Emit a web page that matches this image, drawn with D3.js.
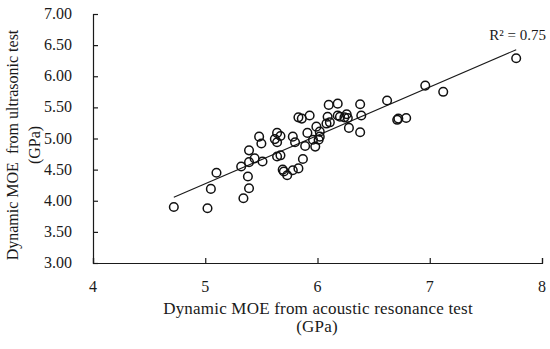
<!DOCTYPE html>
<html>
<head>
<meta charset="utf-8">
<script src="https://cdn.jsdelivr.net/npm/d3@7"></script>
<style>
  body { margin: 0; background: #fff; }
  svg text { font-family: "Liberation Serif", "DejaVu Serif", serif; fill: #1a1a1a; }
</style>
</head>
<body>
<div class="canvas"></div>
<script>
// acoustic resonance MOE (GPa)
const resonance = [
  4.72, 5.02, 5.05, 5.10, 5.34, 5.39, 5.38, 5.32, 5.39, 5.39,
  5.44, 5.51, 5.48, 5.50, 5.62, 5.64, 5.67, 5.64, 5.64, 5.67,
  5.69, 5.70, 5.73, 5.78, 5.83, 5.87, 5.78, 5.80, 5.89, 5.91,
  5.83, 5.86, 5.93, 5.98, 5.96, 5.99, 6.01, 6.02, 6.02, 6.08,
  6.11, 6.09, 6.10, 6.18, 6.18, 6.20, 6.26, 6.27, 6.24, 6.28,
  6.38, 6.39, 6.38, 6.62, 6.71, 6.72, 6.79, 6.96, 7.12, 7.77
];
// ultrasonic MOE (GPa)
const ultrasonic = [
  3.90, 3.88, 4.19, 4.45, 4.04, 4.20, 4.39, 4.55, 4.62, 4.81,
  4.68, 4.63, 5.03, 4.92, 4.99, 5.09, 5.04, 4.94, 4.71, 4.73,
  4.50, 4.47, 4.41, 4.49, 4.52, 4.67, 5.03, 4.94, 4.88, 5.09,
  5.34, 5.32, 5.37, 4.87, 4.98, 5.19, 4.98, 5.03, 5.11, 5.24,
  5.26, 5.35, 5.54, 5.56, 5.37, 5.35, 5.39, 5.33, 5.34, 5.17,
  5.10, 5.37, 5.55, 5.61, 5.30, 5.32, 5.33, 5.85, 5.75, 6.29
];
const xTicks = [4, 5, 6, 7, 8];
const yTicks = [3, 3.5, 4, 4.5, 5, 5.5, 6, 6.5, 7];
const rSquaredLabel = "R² = 0.75";

const points = resonance.map((x, i) => ({ x, y: ultrasonic[i] }));

const dims = { width: 550, height: 349 };
const plot = { left: 93, right: 542, top: 14, bottom: 263 };

const svg = d3
  .select(".canvas")
  .append("svg")
  .attr("width", dims.width)
  .attr("height", dims.height);

const x = d3.scaleLinear().domain([4, 8]).range([plot.left, plot.right]);
const y = d3.scaleLinear().domain([3, 7]).range([plot.bottom, plot.top]);

// axes, ticks inside
svg
  .append("g")
  .attr("transform", `translate(0, ${plot.bottom})`)
  .call(d3.axisTop(x).tickValues(xTicks).tickSize(5).tickSizeOuter(5).tickFormat(""));

svg
  .append("g")
  .attr("transform", `translate(${plot.left}, 0)`)
  .call(d3.axisRight(y).tickValues(yTicks).tickSize(5).tickSizeOuter(5).tickFormat(""));

svg.selectAll(".domain, .tick line").attr("stroke", "#1a1a1a").attr("stroke-width", 1.2);

// tick labels
svg
  .append("g")
  .selectAll("text")
  .data(xTicks)
  .join("text")
  .attr("x", (d) => x(d))
  .attr("y", 292)
  .attr("text-anchor", "middle")
  .attr("font-size", 16)
  .text((d) => d);

svg
  .append("g")
  .selectAll("text")
  .data(yTicks)
  .join("text")
  .attr("x", 72)
  .attr("y", (d) => y(d) + 5)
  .attr("text-anchor", "end")
  .attr("font-size", 16)
  .text((d) => d3.format(".2f")(d));

// axis titles
const xTitle = svg
  .append("text")
  .attr("text-anchor", "middle")
  .attr("font-size", 17)
  .attr("letter-spacing", 0.2);
xTitle.append("tspan").attr("x", 318).attr("y", 314).text("Dynamic MOE from acoustic resonance test");
xTitle.append("tspan").attr("x", 317).attr("y", 332).text("(GPa)");

const yTitle = svg
  .append("text")
  .attr("text-anchor", "middle")
  .attr("font-size", 16)
  .attr("transform", `translate(0, 145) rotate(-90)`);
yTitle.append("tspan").attr("x", 0).attr("y", 18).attr("xml:space", "preserve").text("Dynamic MOE  from ultrasonic test");
yTitle.append("tspan").attr("x", 0).attr("y", 40).text("(GPa)");

// least squares trendline
const mx = d3.mean(points, (d) => d.x);
const my = d3.mean(points, (d) => d.y);
const slope =
  d3.sum(points, (d) => (d.x - mx) * (d.y - my)) / d3.sum(points, (d) => (d.x - mx) ** 2);
const intercept = my - slope * mx;
const [xMin, xMax] = d3.extent(points, (d) => d.x);

svg
  .append("line")
  .attr("x1", x(xMin))
  .attr("y1", y(intercept + slope * xMin))
  .attr("x2", x(xMax))
  .attr("y2", y(intercept + slope * xMax))
  .attr("stroke", "#1a1a1a")
  .attr("stroke-width", 1.1);

svg
  .append("g")
  .selectAll("circle")
  .data(points)
  .join("circle")
  .attr("cx", (d) => x(d.x))
  .attr("cy", (d) => y(d.y))
  .attr("r", 4.3)
  .attr("fill", "none")
  .attr("stroke", "#111")
  .attr("stroke-width", 1.5);

svg
  .append("text")
  .attr("x", 546)
  .attr("y", 40)
  .attr("text-anchor", "end")
  .attr("font-size", 15)
  .text(rSquaredLabel);
</script>
</body>
</html>
